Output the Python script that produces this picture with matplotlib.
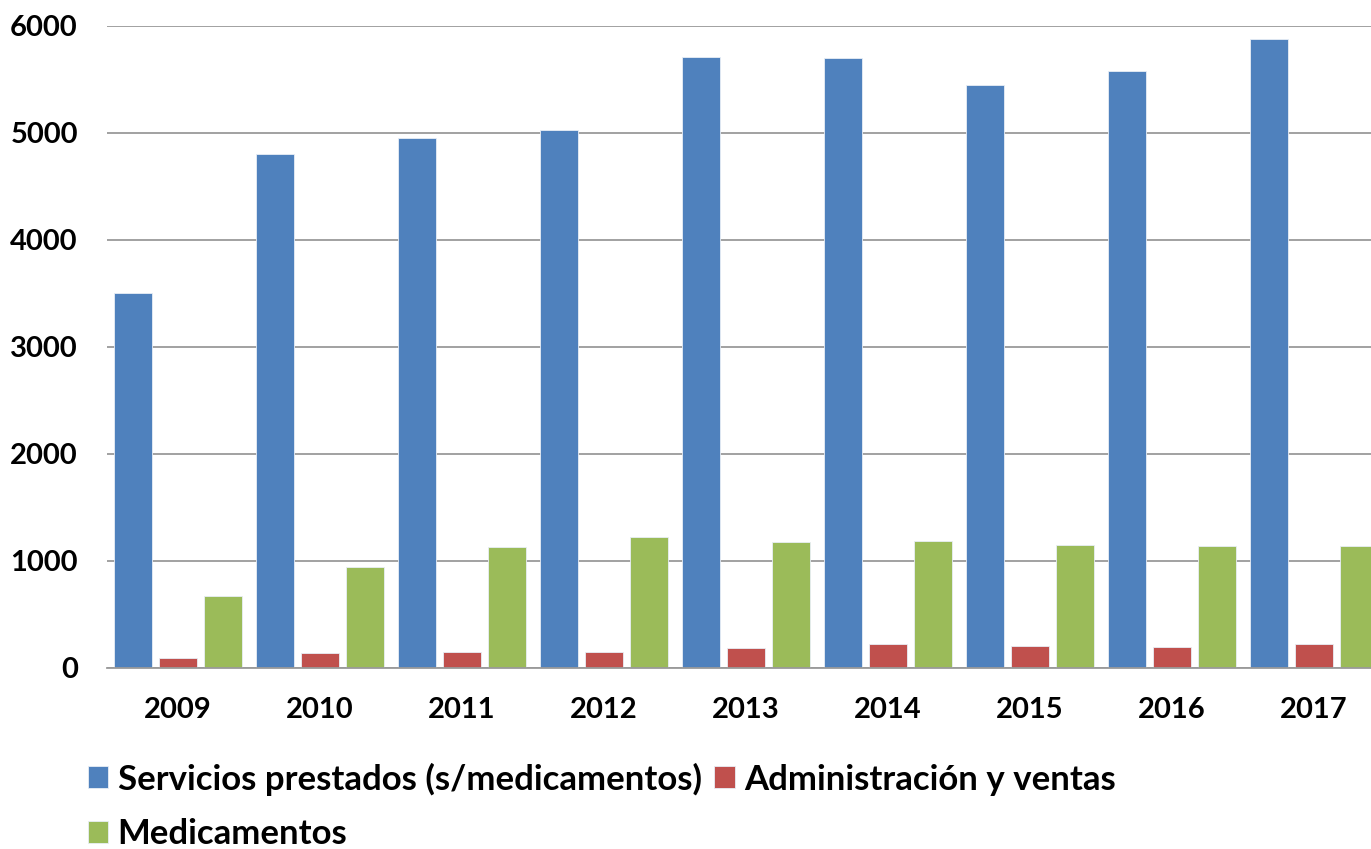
import numpy as np
import matplotlib.pyplot as plt

plt.rcParams['font.family'] = ['Lato', 'DejaVu Sans']

years = ['2009', '2010', '2011', '2012', '2013', '2014', '2015', '2016', '2017']
servicios = [3506, 4803, 4947, 5022, 5709, 5697, 5446, 5579, 5873]
administracion = [87, 136, 149, 149, 186, 220, 207, 195, 220]
medicamentos = [669, 944, 1127, 1223, 1173, 1186, 1146, 1136, 1136]

series = [
    ('Servicios prestados (s/medicamentos)', servicios, '#4F81BD'),
    ('Administración y ventas', administracion, '#C0504D'),
    ('Medicamentos', medicamentos, '#9BBB59'),
]

fig = plt.figure(figsize=(13.71, 8.49), dpi=100)
# el gráfico original está recortado a la derecha
ax = fig.add_axes([0.078, 0.2135, 0.932, 0.7562])

x = np.arange(len(years))
width = 0.27
step = 0.317
handles = {}
for i, (name, vals, color) in enumerate(series):
    b = ax.bar(x + (i - 1) * step, vals, width, color=color,
               edgecolor='#E8EEF6', linewidth=0.6, zorder=3, label=name)
    handles[name] = b

ax.set_xlim(-0.5, 8.5)
ax.set_ylim(0, 6000)
ax.set_yticks(range(0, 6001, 1000))
ax.set_xticks(x)
ax.set_xticklabels(years)
ax.grid(axis='y', color='#9A9A9A', linewidth=1.3, zorder=0)
for s in ['top', 'right', 'left']:
    ax.spines[s].set_visible(False)
ax.spines['bottom'].set_color('#9A9A9A')
ax.spines['bottom'].set_linewidth(1.3)
ax.spines['bottom'].set_zorder(4)
ax.tick_params(axis='both', length=0, labelsize=21, colors='black')
ax.tick_params(axis='y', pad=21)
ax.tick_params(axis='x', pad=21)
for lab in ax.get_xticklabels() + ax.get_yticklabels():
    lab.set_fontweight('bold')

order = ['Servicios prestados (s/medicamentos)', 'Medicamentos', 'Administración y ventas']
fig.legend([handles[n] for n in order], order, ncol=2, loc='upper left',
           bbox_to_anchor=(0.064, 0.102), bbox_transform=fig.transFigure,
           frameon=False, borderpad=0, borderaxespad=0,
           prop={'size': 25, 'weight': 'bold'},
           handlelength=0.58, handleheight=0.58, handletextpad=0.28,
           columnspacing=0.37, labelspacing=0.66)

fig.savefig('out.png', dpi=100)
